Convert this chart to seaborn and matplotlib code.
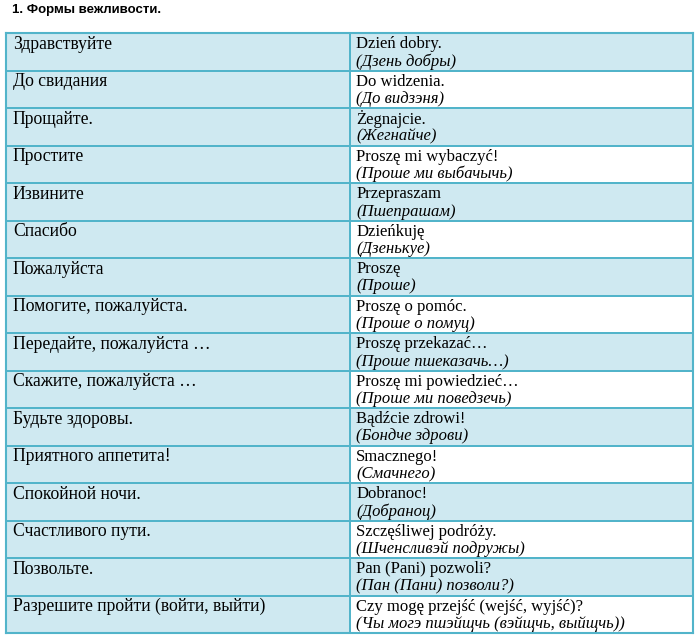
import numpy as np
import pandas as pd
import matplotlib
matplotlib.use("Agg")
import matplotlib.pyplot as plt
import seaborn as sns

# --- данные таблицы ---
TITLE = "1. Формы вежливости."

russian = [
    "Здравствуйте", "До свидания", "Прощайте.", "Простите", "Извините",
    "Спасибо", "Пожалуйста", "Помогите, пожалуйста.", "Передайте, пожалуйста …",
    "Скажите, пожалуйста …", "Будьте здоровы.", "Приятного аппетита!",
    "Спокойной ночи.", "Счастливого пути.", "Позвольте.",
    "Разрешите пройти (войти, выйти)",
]
polish = [
    "Dzień dobry.", "Do widzenia.", "Żegnajcie.", "Proszę mi wybaczyć!",
    "Przepraszam", "Dzieńkuję", "Proszę", "Proszę o pomóc.", "Proszę przekazać…",
    "Proszę mi powiedzieć…", "Bądźcie zdrowi!", "Smacznego!", "Dobranoc!",
    "Szczęśliwej podróży.", "Pan (Pani) pozwoli?",
    "Czy mogę przejść (wejść, wyjść)?",
]
reading = [
    "(Дзень добры)", "(До видзэня)", "(Жегнайче)", "(Проше ми выбачычь)",
    "(Пшепрашам)", "(Дзенькуе)", "(Проше)", "(Проше о помуц)",
    "(Проше пшеказачь…)", "(Проше ми поведзечь)", "(Бондче здрови)",
    "(Смачнего)", "(Добраноц)", "(Шченсливэй подружы)", "(Пан (Пани) позволи?)",
    "(Чы могэ пшэйщчь (вэйщчь, выйщчь))",
]
# заливка ячеек: левая колонка вся голубая, правая чередуется
shade_left = [1] * 16
shade_right = [1, 0] * 8

BLUE = "#cfe9f1"
BORDER = "#52b4ca"
FONT = ["Liberation Serif", "DejaVu Serif"]

sns.set_theme(style="white")
plt.rcParams["font.family"] = FONT

fig = plt.figure(figsize=(6.98, 6.39), dpi=100)
W, H = 698, 639
left, right, top, bottom = 6, 693, 33, 633
ax = fig.add_axes([left / W, 1 - bottom / H, (right - left) / W, (bottom - top) / H])

grid = pd.DataFrame({"ru": shade_left, "pl": shade_right})
cmap = matplotlib.colors.ListedColormap(["white", BLUE])
sns.heatmap(
    grid, ax=ax, cmap=cmap, vmin=0, vmax=1, cbar=False,
    linewidths=1.3, linecolor=BORDER, xticklabels=False, yticklabels=False,
)
ax.set_xlabel(None)
ax.set_ylabel(None)
for s in ax.spines.values():
    s.set_visible(True)
    s.set_color(BORDER)
    s.set_linewidth(1.5)

dx = 0.02
for i, (r, p, t) in enumerate(zip(russian, polish, reading)):
    ax.text(0 + dx, i + 0.30, r, fontsize=12.7, va="center", ha="left",
            color="black", family=FONT)
    ax.text(1 + dx, i + 0.30, p, fontsize=12, va="center", ha="left",
            color="black", family=FONT)
    ax.text(1 + dx, i + 0.76, t, fontsize=12, va="center", ha="left",
            color="black", style="italic", family=FONT)

fig.text(12 / W, 1 - 10 / H, TITLE, fontsize=9.5, fontweight="bold",
         va="center", ha="left", color="black",
         family=["Liberation Sans", "DejaVu Sans"])

plt.savefig("out.png", dpi=100)
